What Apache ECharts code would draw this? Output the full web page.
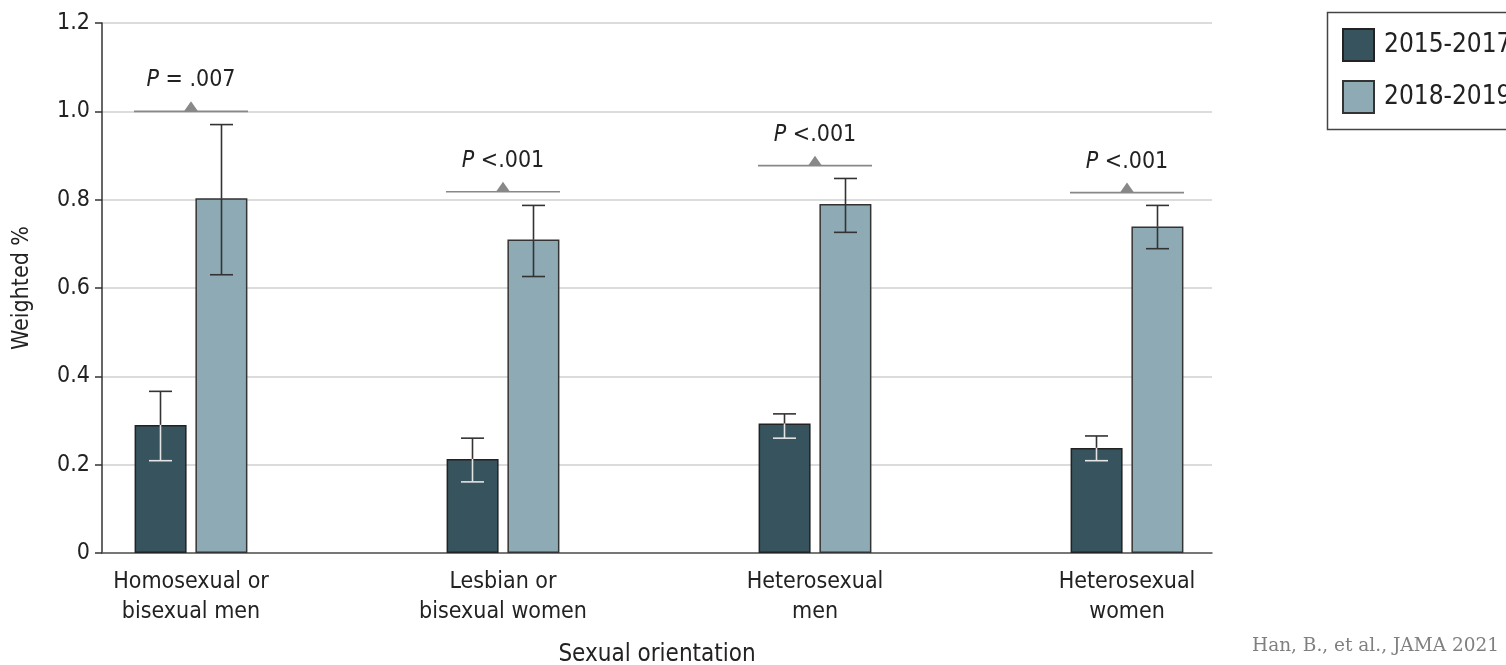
<!DOCTYPE html>
<html>
<head>
<meta charset="utf-8">
<script src="https://cdn.jsdelivr.net/npm/echarts@6/dist/echarts.min.js"></script>
<style>
html,body{margin:0;padding:0;background:#fff;}
#chart{width:1506px;height:665px;}
</style>
</head>
<body>
<div id="chart"></div>
<script>
// ---- data ----
const categories = ['Homosexual or\nbisexual men', 'Lesbian or\nbisexual women', 'Heterosexual\nmen', 'Heterosexual\nwomen'];
const seriesNames = ['2015-2017', '2018-2019'];
const values2015 = [0.29, 0.213, 0.293, 0.238];
const low2015   = [0.209, 0.161, 0.26, 0.209];
const high2015  = [0.366, 0.26, 0.315, 0.265];
const values2018 = [0.803, 0.71, 0.79, 0.739];
const low2018   = [0.63, 0.626, 0.726, 0.689];
const high2018  = [0.97, 0.787, 0.848, 0.787];
const pLevels = [1.0, 0.818, 0.877, 0.816];
const pLabels = ['= .007', '<.001', '<.001', '<.001'];
const yTicks = [0, 0.2, 0.4, 0.6, 0.8, 1.0, 1.2];

const FONT = '"DejaVu Sans Condensed", "Liberation Sans Narrow", "Noto Sans", sans-serif';
const DARK = '#37535e';
const LIGHT = '#8eaab5';
const BAR_W = 52;
const OFF = 30.5;

const chart = echarts.init(document.getElementById('chart'));

function errItem(offset, lowerColor) {
  return function (params, api) {
    const idx = api.value(0);
    const c = api.coord([idx, api.value(3)]);
    const lo = api.coord([idx, api.value(1)]);
    const hi = api.coord([idx, api.value(2)]);
    const x = c[0] + offset;
    const cap = 11.5;
    return {
      type: 'group',
      children: [
        { type: 'line', shape: { x1: x, y1: c[1], x2: x, y2: hi[1] }, style: { stroke: '#333', lineWidth: 1.6 } },
        { type: 'line', shape: { x1: x - cap, y1: hi[1], x2: x + cap, y2: hi[1] }, style: { stroke: '#333', lineWidth: 1.6 } },
        { type: 'line', shape: { x1: x, y1: c[1], x2: x, y2: lo[1] }, style: { stroke: lowerColor, lineWidth: 1.6 } },
        { type: 'line', shape: { x1: x - cap, y1: lo[1], x2: x + cap, y2: lo[1] }, style: { stroke: lowerColor, lineWidth: 1.6 } }
      ]
    };
  };
}

const option = {
  animation: false,
  backgroundColor: '#fff',
  textStyle: { fontFamily: FONT },
  grid: [
    { left: 102, right: 294, top: 23, bottom: 112, containLabel: false, outerBoundsMode: 'none' },
    { left: 35, right: 223, top: 23, bottom: 112, containLabel: false, outerBoundsMode: 'none' }
  ],
  xAxis: [
    {
      gridIndex: 0, type: 'value', min: 0, max: 1,
      axisLine: { show: true, lineStyle: { color: '#555', width: 1.5 } },
      axisTick: { show: false }, axisLabel: { show: false }, splitLine: { show: false },
      name: 'Sexual orientation', nameLocation: 'middle', nameGap: 90,
      nameTextStyle: { fontFamily: FONT, fontSize: 24, color: '#222' }
    },
    {
      gridIndex: 1, type: 'category', data: categories,
      axisLine: { show: false }, axisTick: { show: false },
      axisLabel: { fontFamily: FONT, fontSize: 23, color: '#222', lineHeight: 30, margin: 14 }
    }
  ],
  yAxis: [
    {
      gridIndex: 0, type: 'value', min: 0, max: 1.2, interval: 0.2,
      axisLine: { show: true, lineStyle: { color: '#333', width: 1.5 } },
      axisTick: { show: true, length: 7, lineStyle: { color: '#333', width: 1.5 } },
      axisLabel: {
        fontFamily: FONT, fontSize: 23, color: '#222', margin: 12,
        formatter: function (v) {
          const t = yTicks.find(function (a) { return Math.abs(a - v) < 1e-6; });
          if (t === undefined) return '';
          return t === 0 ? '0' : t.toFixed(1);
        }
      },
      splitLine: { show: true, lineStyle: { color: '#dcdcdc', width: 2 } },
      name: 'Weighted %', nameLocation: 'middle', nameGap: 68, nameRotate: 90,
      nameTextStyle: { fontFamily: FONT, fontSize: 23, color: '#222' }
    },
    {
      gridIndex: 1, type: 'value', min: 0, max: 1.2, interval: 0.2, show: false
    }
  ],
  legend: {
    orient: 'vertical', left: 1342, top: 28, padding: 0,
    itemWidth: 31, itemHeight: 32, itemGap: 18,
    icon: 'rect',
    data: seriesNames,
    textStyle: { fontFamily: FONT, fontSize: 26, color: '#222', padding: [0, 0, 0, 5] }
  },
  series: [
    {
      name: seriesNames[0], type: 'bar', xAxisIndex: 1, yAxisIndex: 1,
      data: values2015, barWidth: BAR_W, barGap: '17%',
      itemStyle: { color: DARK, borderColor: '#222', borderWidth: 1.5 }
    },
    {
      name: seriesNames[1], type: 'bar', xAxisIndex: 1, yAxisIndex: 1,
      data: values2018, barWidth: BAR_W,
      itemStyle: { color: LIGHT, borderColor: '#333', borderWidth: 1.5 }
    },
    {
      type: 'custom', xAxisIndex: 1, yAxisIndex: 1, z: 5,
      renderItem: errItem(-OFF, '#e4e4e4'),
      data: categories.map(function (c, i) { return [i, low2015[i], high2015[i], values2015[i]]; })
    },
    {
      type: 'custom', xAxisIndex: 1, yAxisIndex: 1, z: 5,
      renderItem: errItem(OFF, '#333'),
      data: categories.map(function (c, i) { return [i, low2018[i], high2018[i], values2018[i]]; })
    },
    {
      type: 'custom', xAxisIndex: 1, yAxisIndex: 1, z: 6,
      renderItem: function (params, api) {
        const idx = api.value(0);
        const p = api.coord([idx, api.value(1)]);
        const label = pLabels[params.dataIndex];
        const x = p[0], y = p[1];
        return {
          type: 'group',
          children: [
            { type: 'line', shape: { x1: x - 57, y1: y, x2: x + 57, y2: y }, style: { stroke: '#888', lineWidth: 1.6 } },
            { type: 'polygon', shape: { points: [[x - 7, y], [x + 7, y], [x, y - 10]] }, style: { fill: '#888' } },
            {
              type: 'text', x: x, y: y - 31,
              style: {
                text: '{i|P} ' + label,
                align: 'center', verticalAlign: 'middle',
                fontFamily: FONT, fontSize: 23, fill: '#222',
                rich: { i: { fontStyle: 'italic', fontFamily: FONT, fontSize: 23, fill: '#222' } }
              }
            }
          ]
        };
      },
      data: categories.map(function (c, i) { return [i, pLevels[i]]; })
    }
  ],
  graphic: [
    {
      type: 'rect', left: 1325, top: 10, z: 0,
      shape: { width: 260, height: 117 },
      style: { fill: 'none', stroke: '#444', lineWidth: 1.5 }
    },
    {
      type: 'text', left: 1252, top: 637,
      style: { text: 'Han, B., et al., JAMA 2021', fontFamily: '"DejaVu Serif", "Liberation Serif", serif', fontSize: 18.5, fill: '#808080' }
    }
  ]
};
chart.setOption(option);
</script>
</body>
</html>
